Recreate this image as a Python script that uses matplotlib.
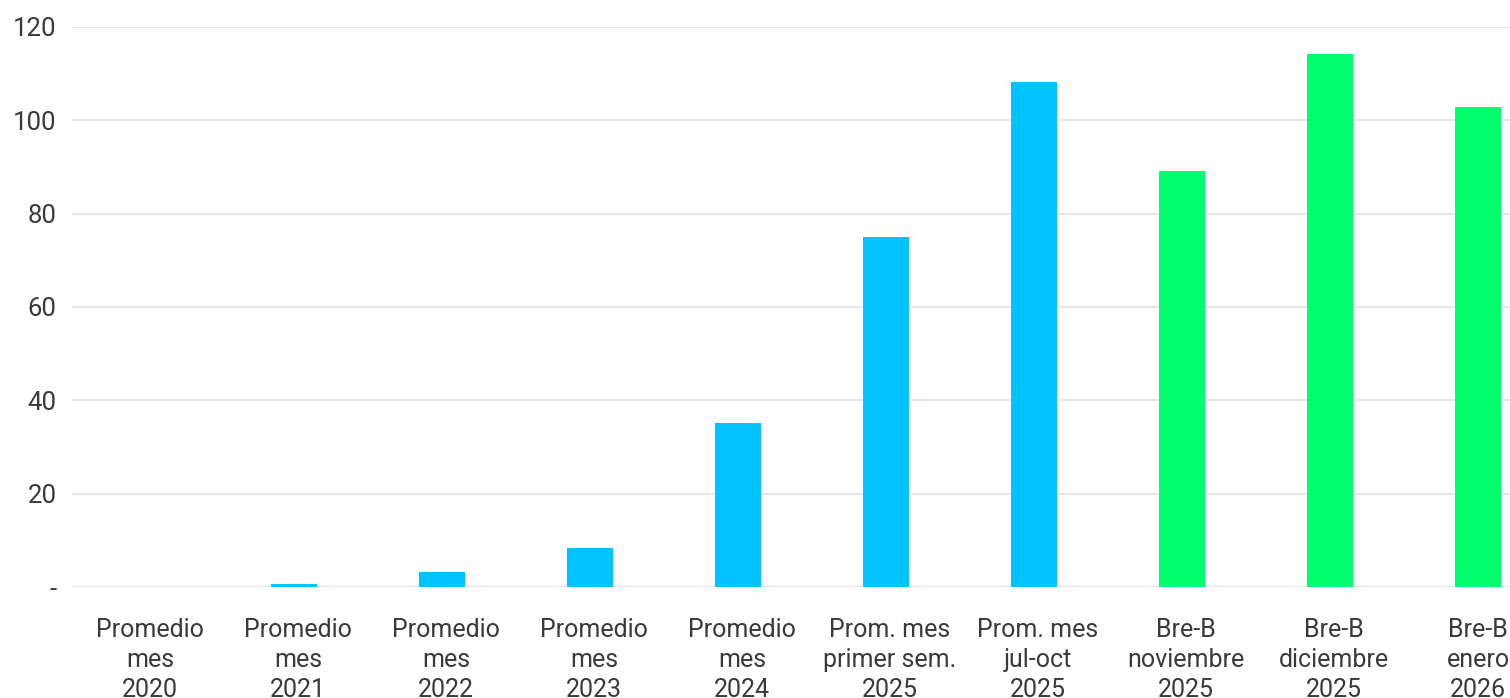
import numpy as np
import matplotlib
matplotlib.use('Agg')
import matplotlib.pyplot as plt
import matplotlib.transforms as mtransforms

plt.rcParams['font.family'] = ['Roboto', 'DejaVu Sans']

categories = ['Promedio\nmes\n2020', 'Promedio\nmes\n2021', 'Promedio\nmes\n2022',
              'Promedio\nmes\n2023', 'Promedio\nmes\n2024', 'Prom. mes\nprimer sem.\n2025',
              'Prom. mes\njul-oct\n2025', 'Bre-B\nnoviembre\n2025', 'Bre-B\ndiciembre\n2025',
              'Bre-B\nenero\n2026']
values = [0.05, 0.6, 3.2, 8.4, 35.1, 75.0, 108.2, 89.1, 114.2, 102.9]
is_breb = [False] * 7 + [True] * 3

blue = '#00C3FF'
green = '#00FF6E'
text_color = '#3a3a3a'

fig = plt.figure(figsize=(15.1, 6.98), dpi=100)
# axes runs a bit past the right edge, as in the reference
ax = fig.add_axes([72 / 1510, 111 / 698, 1480 / 1510, 560 / 698])

x = np.arange(len(categories))
colors = [green if b else blue for b in is_breb]
ax.bar(x, values, width=0.31, color=colors, zorder=3)

ax.set_xlim(-0.5, len(categories) - 0.5)
ax.set_ylim(0, 120)
yticks = np.arange(0, 121, 20)
ax.set_yticks(yticks)
ax.set_yticklabels(['-'] + [str(v) for v in yticks[1:]])
ax.set_xticks(x)
ax.set_xticklabels(categories, linespacing=1.32)

ax.grid(axis='y', color='#e6e6e6', linewidth=1.5, zorder=0)
for s in ax.spines.values():
    s.set_visible(False)
ax.tick_params(axis='y', length=0, pad=11, labelsize=18.5, labelcolor=text_color)
ax.tick_params(axis='x', length=0, pad=22, labelsize=18, labelcolor=text_color)
# labels sit a few pixels right of the bar centres in the reference (except the last one)
shift = mtransforms.ScaledTranslation(4 / 100, 0, fig.dpi_scale_trans)
labels = ax.get_xticklabels()
for lbl in labels:
    lbl.set_va('top')
for lbl in labels[:-1]:
    lbl.set_transform(lbl.get_transform() + shift)

fig.savefig('out.png', dpi=100)
